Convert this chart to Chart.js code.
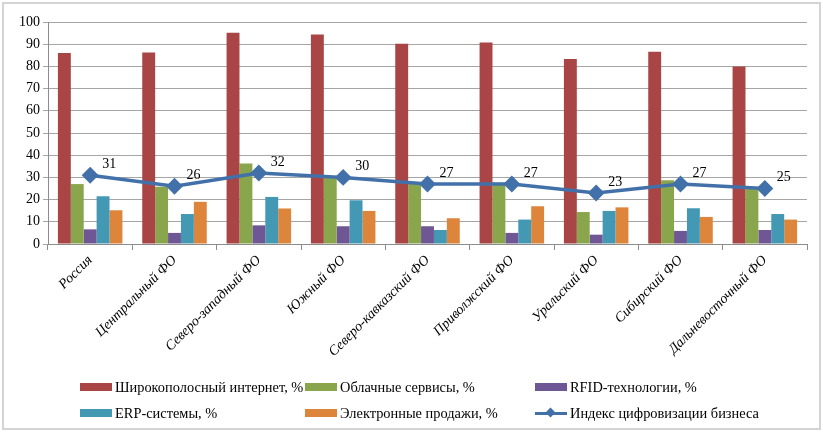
<!DOCTYPE html>
<html>
<head>
<meta charset="utf-8">
<script src="https://cdn.jsdelivr.net/npm/chart.js@4/dist/chart.umd.min.js"></script>
<style>
  body { margin: 0; background: #fff; }
  #wrap { position: relative; width: 823px; height: 434px; }
  #frame { position: absolute; left: 2px; top: 2px; right: 2px; bottom: 4px; border: 2px solid #d4d4d4; box-sizing: border-box; }
  #chartBox { position: absolute; left: 0; top: 0; width: 823px; height: 434px; }
  #legend { position: absolute; left: 80px; top: 378px; display: grid; grid-template-columns: 225px 230px 260px; row-gap: 8px;
    font-family: "Liberation Serif", serif; font-size: 14.4px; color: #000; }
  .item { display: flex; align-items: center; height: 18px; white-space: nowrap; }
  .sw { width: 32px; height: 8px; margin-right: 3px; }
  .ln { width: 32px; height: 3px; margin-right: 3px; position: relative; }
  .ln:after { content: ''; position: absolute; left: 12px; top: -3px; width: 7px; height: 7px; background: inherit; transform: rotate(45deg); }
</style>
</head>
<body>
<div id="wrap">
  <div id="frame"></div>
  <div id="chartBox"><canvas id="myChart"></canvas></div>
  <div id="legend"></div>
</div>
<script>
'use strict';

var regions = ['Россия', 'Центральный ФО', 'Северо-западный ФО', 'Южный ФО', 'Северо-кавказский ФО',
  'Приволжский ФО', 'Уральский ФО', 'Сибирский ФО', 'Дальневосточный ФО'];

var broadband = [86, 86.3, 95.2, 94.4, 90.2, 90.8, 83.3, 86.6, 80];
var cloud = [27, 25.8, 36.3, 30.3, 27.6, 27.6, 14.4, 28.7, 25];
var rfid = [6.6, 5, 8.4, 8, 8, 5, 4.2, 5.9, 6.3];
var erp = [21.5, 13.5, 21.2, 19.7, 6.3, 11, 14.9, 16.1, 13.5];
var eSales = [15.2, 19, 16, 14.9, 11.6, 17, 16.5, 12.2, 11];
var digitalIndex = [31, 26, 32, 30, 27, 27, 23, 27, 25];

var yTicks = [0, 10, 20, 30, 40, 50, 60, 70, 80, 90, 100];

var seriesNames = ['Широкополосный интернет, %', 'Облачные сервисы, %', 'RFID-технологии, %',
  'ERP-системы, %', 'Электронные продажи, %', 'Индекс цифровизации бизнеса'];
var seriesColors = ['#a94545', '#8aa64c', '#6f5795', '#4399b4', '#de853c', '#4271aa'];

var serif = '"Liberation Serif", "Times New Roman", serif';

function barSet(i, values) {
  return {
    type: 'bar',
    label: seriesNames[i],
    data: values,
    backgroundColor: seriesColors[i],
    barPercentage: 1,
    categoryPercentage: 0.765,
    order: 2
  };
}

// value labels next to the line points
var pointLabels = {
  id: 'pointLabels',
  afterDatasetsDraw: function(chart) {
    var ctx = chart.ctx;
    var meta = chart.getDatasetMeta(5);
    ctx.save();
    ctx.font = '14px ' + serif;
    ctx.fillStyle = '#000';
    ctx.textAlign = 'left';
    ctx.textBaseline = 'middle';
    meta.data.forEach(function(pt, i) {
      ctx.fillText(String(digitalIndex[i]), pt.x + 12, pt.y - 11);
    });
    ctx.restore();
  }
};

var ctx = document.getElementById('myChart');

var myChart = new Chart(ctx, {
  data: {
    labels: regions,
    datasets: [
      barSet(0, broadband),
      barSet(1, cloud),
      barSet(2, rfid),
      barSet(3, erp),
      barSet(4, eSales),
      {
        type: 'line',
        label: seriesNames[5],
        data: digitalIndex,
        borderColor: seriesColors[5],
        backgroundColor: seriesColors[5],
        borderWidth: 3.5,
        pointStyle: 'rectRot',
        pointRadius: 6,
        tension: 0,
        order: 1
      }
    ]
  },
  options: {
    responsive: true,
    maintainAspectRatio: false,
    animation: false,
    layout: { padding: { left: 4, right: 16, top: 22, bottom: 0 } },
    plugins: { legend: { display: false }, tooltip: { enabled: false } },
    scales: {
      x: {
        offset: true,
        grid: { offset: true, drawOnChartArea: false, tickLength: 6, color: '#8c8c8c' },
        border: { color: '#8c8c8c' },
        ticks: { maxRotation: 45, minRotation: 45, color: '#000', padding: 2,
          font: { family: serif, size: 14, style: 'italic' } },
        afterFit: function(scale) { scale.height = 190; }
      },
      y: {
        min: 0,
        max: 100,
        afterBuildTicks: function(scale) {
          scale.ticks = yTicks.map(function(v) { return { value: v }; });
        },
        grid: { color: '#a6a6a6', tickLength: 5 },
        border: { color: '#8c8c8c' },
        ticks: { color: '#000', padding: 3, font: { family: serif, size: 14 } },
        afterFit: function(scale) { scale.width = 44; }
      }
    }
  },
  plugins: [pointLabels]
});

// legend in three columns like the source
var legend = document.getElementById('legend');
seriesNames.forEach(function(name, i) {
  var item = document.createElement('div');
  item.className = 'item';
  var sw = document.createElement('span');
  sw.className = i === 5 ? 'ln' : 'sw';
  sw.style.background = seriesColors[i];
  item.appendChild(sw);
  item.appendChild(document.createTextNode(name));
  legend.appendChild(item);
});
</script>
</body>
</html>
